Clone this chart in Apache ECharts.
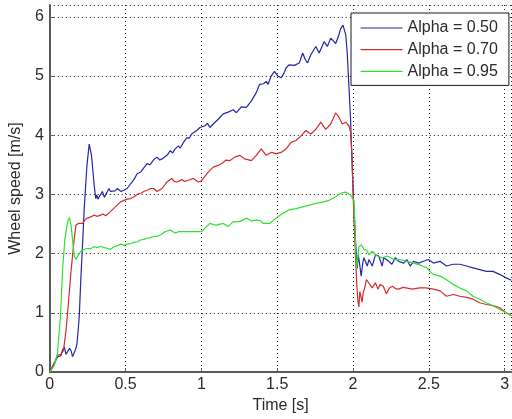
<!DOCTYPE html>
<html>
<head>
<meta charset="utf-8">
<script src="https://cdn.jsdelivr.net/npm/echarts@6/dist/echarts.min.js"></script>
<style>
  html, body { margin: 0; padding: 0; background: #fff; }
  #chart { width: 512px; height: 419px; }
</style>
</head>
<body>
<div id="chart"></div>
<script>
// Wheel speed traces [time (s), speed (m/s)] for three filter constants
const alphaValues = ['0.50', '0.70', '0.95'];
const seriesColors = ['#2626a8', '#d42c2c', '#30df30'];

const speedAlpha050 = [
  [0,0],[0.013,0],[0.03,0.15],[0.05,0.25],[0.074,0.28],[0.085,0.38],[0.096,0.42],[0.107,0.3],[0.118,0.33],[0.13,0.4],
  [0.14,0.36],[0.15,0.26],[0.157,0.28],[0.17,0.38],[0.179,0.47],[0.194,0.92],[0.205,1.59],[0.216,2.15],[0.227,2.76],
  [0.245,3.49],[0.26,3.85],[0.275,3.66],[0.293,3.15],[0.303,2.93],[0.31,2.99],[0.317,2.92],[0.33,2.95],[0.347,3.05],
  [0.36,2.95],[0.369,2.92],[0.38,3.05],[0.39,3.10],[0.40,3.05],[0.413,3.08],[0.43,3.06],[0.445,3.10],[0.47,3.05],
  [0.489,3.07],[0.51,3.1],[0.533,3.18],[0.555,3.25],[0.576,3.35],[0.6,3.38],[0.62,3.45],[0.642,3.52],[0.66,3.50],
  [0.675,3.55],[0.69,3.6],[0.707,3.63],[0.725,3.58],[0.74,3.6],[0.773,3.66],[0.795,3.74],[0.81,3.70],[0.827,3.77],
  [0.849,3.82],[0.86,3.78],[0.882,3.88],[0.904,3.96],[0.92,3.95],[0.936,4.02],[0.969,4.08],[0.991,4.13],[1.024,4.16],
  [1.04,4.2],[1.056,4.13],[1.078,4.19],[1.111,4.27],[1.144,4.36],[1.177,4.39],[1.21,4.43],[1.231,4.38],[1.264,4.48],
  [1.297,4.47],[1.33,4.58],[1.362,4.72],[1.384,4.86],[1.395,4.83],[1.41,4.87],[1.428,4.91],[1.44,4.86],[1.46,5.0],
  [1.482,5.08],[1.504,5.0],[1.526,4.97],[1.545,5.05],[1.559,5.14],[1.58,5.19],[1.613,5.18],[1.646,5.22],[1.668,5.39],
  [1.685,5.28],[1.70,5.22],[1.722,5.36],[1.755,5.50],[1.777,5.39],[1.809,5.58],[1.831,5.50],[1.853,5.64],[1.886,5.55],
  [1.905,5.68],[1.919,5.80],[1.934,5.86],[1.952,5.70],[1.962,5.39],[1.973,4.83],[1.984,4.27],[1.995,3.43],[2.006,2.76],
  [2.017,2.21],[2.028,1.75],[2.035,1.98],[2.045,1.80],[2.054,1.62],[2.065,1.85],[2.072,1.93],[2.094,1.79],[2.105,1.9],
  [2.116,1.93],[2.127,1.79],[2.148,1.98],[2.17,1.96],[2.192,1.79],[2.203,1.93],[2.22,1.9],[2.235,1.87],[2.257,1.82],
  [2.279,1.93],[2.301,1.87],[2.334,1.84],[2.355,1.90],[2.377,1.79],[2.399,1.87],[2.432,1.84],[2.464,1.87],[2.497,1.90],
  [2.53,1.84],[2.574,1.87],[2.617,1.79],[2.661,1.82],[2.705,1.82],[2.749,1.79],[2.792,1.76],[2.836,1.73],[2.88,1.70],
  [2.923,1.70],[2.967,1.65],[3.01,1.59],[3.045,1.55]
];

const speedAlpha070 = [
  [0,0],[0.013,0],[0.03,0.15],[0.05,0.28],[0.074,0.3],[0.09,0.36],[0.107,0.70],[0.122,1.14],[0.14,1.70],[0.157,2.15],
  [0.172,2.48],[0.188,2.51],[0.2,2.52],[0.216,2.51],[0.235,2.58],[0.249,2.60],[0.27,2.62],[0.293,2.65],[0.31,2.63],
  [0.336,2.65],[0.35,2.67],[0.369,2.64],[0.40,2.71],[0.42,2.76],[0.445,2.82],[0.465,2.87],[0.489,2.90],[0.51,2.92],
  [0.533,2.93],[0.555,2.96],[0.576,3.00],[0.6,3.02],[0.62,3.05],[0.642,3.07],[0.665,3.1],[0.686,3.10],[0.707,3.05],
  [0.72,3.02],[0.74,3.10],[0.773,3.21],[0.805,3.27],[0.82,3.22],[0.838,3.21],[0.87,3.25],[0.89,3.22],[0.915,3.24],
  [0.947,3.27],[0.98,3.21],[1.0,3.23],[1.013,3.24],[1.046,3.38],[1.078,3.46],[1.111,3.49],[1.144,3.54],[1.16,3.58],
  [1.187,3.57],[1.22,3.63],[1.253,3.66],[1.286,3.60],[1.33,3.57],[1.362,3.66],[1.395,3.77],[1.41,3.72],[1.428,3.66],
  [1.46,3.71],[1.493,3.69],[1.526,3.71],[1.559,3.77],[1.591,3.88],[1.624,3.91],[1.657,3.99],[1.69,4.08],[1.722,4.02],
  [1.755,4.10],[1.788,4.22],[1.82,4.10],[1.853,4.19],[1.886,4.38],[1.908,4.30],[1.93,4.19],[1.952,4.22],[1.973,4.16],
  [1.984,4.05],[1.995,3.60],[2.0,3.04],[2.008,2.48],[2.017,1.93],[2.025,1.48],[2.032,1.2],[2.039,1.10],[2.045,1.36],
  [2.05,1.30],[2.06,1.18],[2.068,1.35],[2.077,1.42],[2.089,1.56],[2.1,1.52],[2.111,1.51],[2.127,1.42],[2.148,1.51],
  [2.164,1.40],[2.18,1.48],[2.2,1.45],[2.22,1.32],[2.24,1.42],[2.26,1.45],[2.28,1.41],[2.30,1.40],[2.33,1.43],
  [2.35,1.42],[2.39,1.40],[2.44,1.42],[2.48,1.42],[2.53,1.40],[2.574,1.37],[2.617,1.28],[2.661,1.31],[2.705,1.28],
  [2.749,1.26],[2.792,1.23],[2.836,1.17],[2.88,1.14],[2.923,1.12],[2.967,1.09],[3.01,1.0],[3.045,0.95]
];

const speedAlpha095 = [
  [0,0],[0.013,0],[0.03,0.11],[0.05,0.31],[0.07,0.92],[0.085,1.76],[0.10,2.26],[0.118,2.54],[0.129,2.61],[0.14,2.48],
  [0.151,2.21],[0.162,1.95],[0.172,1.90],[0.188,1.98],[0.205,2.04],[0.225,2.07],[0.249,2.09],[0.27,2.08],[0.293,2.12],
  [0.31,2.10],[0.336,2.12],[0.36,2.1],[0.38,2.09],[0.40,2.07],[0.424,2.12],[0.445,2.13],[0.467,2.16],[0.49,2.14],
  [0.51,2.16],[0.535,2.17],[0.555,2.19],[0.58,2.2],[0.598,2.23],[0.62,2.24],[0.642,2.26],[0.665,2.27],[0.686,2.29],
  [0.707,2.29],[0.72,2.29],[0.74,2.33],[0.76,2.37],[0.795,2.40],[0.827,2.35],[0.85,2.37],[0.87,2.37],[0.915,2.37],
  [0.958,2.37],[1.0,2.37],[1.024,2.43],[1.056,2.51],[1.08,2.49],[1.1,2.48],[1.144,2.51],[1.177,2.46],[1.21,2.54],
  [1.253,2.54],[1.297,2.60],[1.33,2.55],[1.362,2.57],[1.395,2.55],[1.406,2.51],[1.449,2.51],[1.493,2.60],[1.537,2.68],
  [1.58,2.74],[1.624,2.76],[1.668,2.79],[1.712,2.82],[1.755,2.85],[1.799,2.87],[1.842,2.90],[1.886,2.96],[1.919,3.02],
  [1.952,3.04],[1.984,2.99],[2.006,2.90],[2.013,2.48],[2.017,2.09],[2.024,1.75],[2.032,1.9],[2.039,2.12],[2.056,2.15],
  [2.072,2.07],[2.09,2.06],[2.105,1.98],[2.127,2.04],[2.16,1.96],[2.192,1.93],[2.225,1.96],[2.27,1.90],[2.31,1.90],
  [2.355,1.87],[2.40,1.84],[2.44,1.81],[2.486,1.76],[2.508,1.70],[2.53,1.65],[2.574,1.62],[2.617,1.56],[2.661,1.48],
  [2.705,1.42],[2.749,1.37],[2.792,1.28],[2.836,1.23],[2.88,1.17],[2.923,1.12],[2.967,1.06],[3.01,1.0],[3.045,0.95]
];

const traces = [speedAlpha050, speedAlpha070, speedAlpha095];

const textColor = '#2b2b2b';
const axisColor = '#5a5a5a';
const fontFamily = '"Liberation Sans", Arial, Helvetica, sans-serif';

const chart = echarts.init(document.getElementById('chart'), null, { renderer: 'canvas' });

const gridDots = { show: true, lineStyle: { color: '#1e1e1e', width: 1, type: [1, 3] } };

chart.setOption({
  animation: false,
  backgroundColor: '#ffffff',
  textStyle: { fontFamily: fontFamily, color: textColor },
  grid: { left: 47, right: 0, top: 5, bottom: 44, containLabel: false },
  xAxis: {
    type: 'value',
    min: 0, max: 3.045, interval: 0.5,
    name: 'Time [s]',
    nameLocation: 'middle',
    nameGap: 26,
    nameTextStyle: { fontSize: 16, color: textColor, fontFamily: fontFamily },
    axisLine: { show: true, onZero: false, lineStyle: { color: axisColor, width: 2 } },
    axisTick: { show: true, inside: true, length: 4, lineStyle: { color: axisColor } },
    axisLabel: { fontSize: 16, color: textColor, margin: 5, showMaxLabel: false, fontFamily: fontFamily },
    splitLine: gridDots
  },
  yAxis: {
    type: 'value',
    min: 0, max: 6.2, interval: 1,
    name: 'Wheel speed [m/s]',
    nameLocation: 'middle',
    nameGap: 23,
    nameTextStyle: { fontSize: 16, color: textColor, fontFamily: fontFamily },
    axisLine: { show: true, onZero: false, lineStyle: { color: axisColor, width: 2 } },
    axisTick: { show: true, inside: true, length: 4, lineStyle: { color: axisColor } },
    axisLabel: { fontSize: 16, color: textColor, margin: 6, showMaxLabel: false, fontFamily: fontFamily },
    splitLine: gridDots
  },
  legend: {
    orient: 'vertical',
    left: 351, top: 13,
    padding: [7, 11, 6, 9],
    itemWidth: 42, itemHeight: 16, itemGap: 5.7,
    backgroundColor: '#ffffff',
    borderColor: '#1a1a1a', borderWidth: 1, borderRadius: 0,
    // plain line keys, no marker on them
    itemStyle: { opacity: 0 },
    lineStyle: { width: 1.2 },
    textStyle: { fontSize: 16, color: textColor, fontFamily: fontFamily, lineHeight: 16, padding: [0, 0, 0, 0] },
    data: alphaValues.map(a => 'Alpha = ' + a)
  },
  series: traces.map((trace, i) => ({
    name: 'Alpha = ' + alphaValues[i],
    type: 'line',
    data: trace,
    showSymbol: false,
    symbol: 'none',
    smooth: false,
    lineStyle: { color: seriesColors[i], width: 1.2 },
    itemStyle: { color: seriesColors[i] }
  }))
});
</script>
</body>
</html>
